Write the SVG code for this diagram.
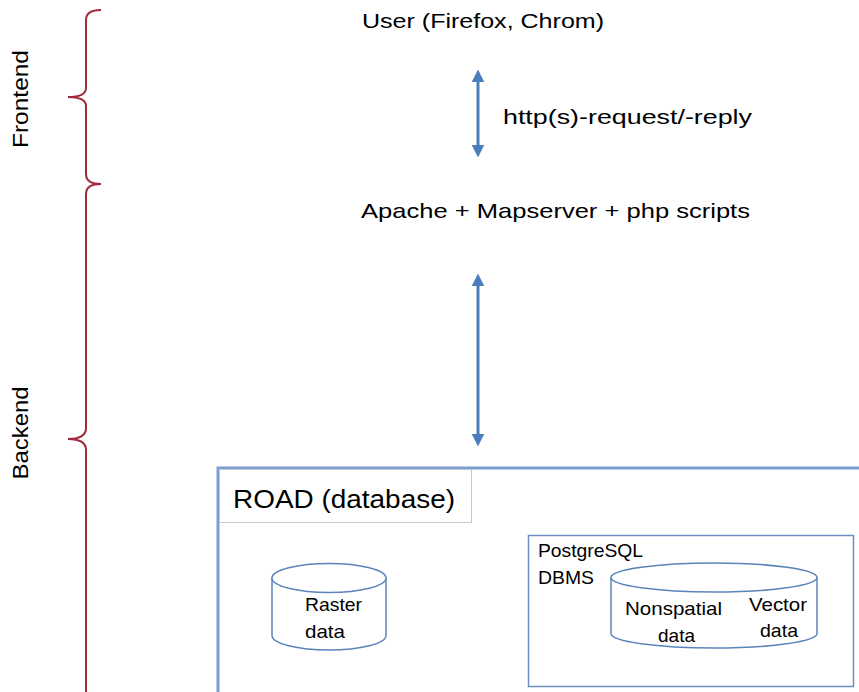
<svg xmlns="http://www.w3.org/2000/svg" width="859" height="692" viewBox="0 0 859 692">
<style>
text{font-family:"Liberation Sans",Arial,sans-serif;fill:#000}
.brace{fill:none;stroke:#9E2A3C;stroke-width:2}
.conn{stroke:#4A7EBB;stroke-width:3;fill:none}
.cyl{fill:#fff;stroke:#5B85BA;stroke-width:1.5}
.s{font-size:19px}
</style>
<defs>
<marker id="ah" viewBox="0 0 10 10" refX="5" refY="5" markerWidth="4.3" markerHeight="4.3" orient="auto-start-reverse" markerUnits="strokeWidth">
<path d="M0,0 L10,5 L0,10 Z" fill="#4A7EBB"/>
</marker>
</defs>
<rect width="859" height="692" fill="#fff"/>
<g id="frontend">
<path class="brace" d="M101,10 Q86,10 86,20 L86,88 Q86,97 68,97 Q86,97 86,106 L86,174 Q86,184 101,184"/>
<text transform="translate(28,99) rotate(-90)" text-anchor="middle" font-size="22" textLength="98" lengthAdjust="spacingAndGlyphs">Frontend</text>
</g>
<g id="backend">
<path class="brace" d="M101,184 Q86,184 86,194 L86,428 Q86,439 68,439 Q86,439 86,450 L86,692"/>
<text transform="translate(28,433) rotate(-90)" text-anchor="middle" font-size="22" textLength="93" lengthAdjust="spacingAndGlyphs">Backend</text>
</g>
<g id="user">
<text x="362" y="28" font-size="21" textLength="242" lengthAdjust="spacingAndGlyphs">User (Firefox, Chrom)</text>
</g>
<g id="apache">
<text x="361" y="218" font-size="21" textLength="389" lengthAdjust="spacingAndGlyphs">Apache + Mapserver + php scripts</text>
</g>
<g id="connectors">
<line class="conn" x1="478" y1="76" x2="478" y2="151" marker-start="url(#ah)" marker-end="url(#ah)"/>
<line class="conn" x1="478" y1="280" x2="478" y2="440" marker-start="url(#ah)" marker-end="url(#ah)"/>
<text x="503" y="124" font-size="21" textLength="249" lengthAdjust="spacingAndGlyphs">http(s)-request/-reply</text>
</g>
<g id="road">
<rect x="218" y="468" width="645" height="230" fill="#fff" stroke="#7A9DD4" stroke-width="3"/>
<rect x="219.5" y="469.5" width="252" height="53" fill="#fff" stroke="#C8C8C8" stroke-width="1"/>
<text x="233" y="508" font-size="26" textLength="222" lengthAdjust="spacingAndGlyphs">ROAD (database)</text>
</g>
<g id="raster">
<path class="cyl" d="M272,578 L272,635.5 A57,14.5 0 0 0 386,635.5 L386,578"/>
<ellipse class="cyl" cx="329" cy="578" rx="57" ry="14.5"/>
<text class="s" x="305" y="611" textLength="57" lengthAdjust="spacingAndGlyphs">Raster</text>
<text class="s" x="305" y="638" textLength="40" lengthAdjust="spacingAndGlyphs">data</text>
</g>
<g id="postgres">
<rect x="528.5" y="535.5" width="325" height="151" fill="#fff" stroke="#6D8FC0" stroke-width="1.5"/>
<text class="s" x="538" y="557" textLength="105" lengthAdjust="spacingAndGlyphs">PostgreSQL</text>
<text class="s" x="538" y="584" textLength="56" lengthAdjust="spacingAndGlyphs">DBMS</text>
</g>
<g id="vectordb">
<path class="cyl" d="M611,577.5 L611,633.5 A103,14.5 0 0 0 817,633.5 L817,577.5"/>
<ellipse class="cyl" cx="714" cy="577.5" rx="103" ry="14.5"/>
<text class="s" x="625" y="615" textLength="97" lengthAdjust="spacingAndGlyphs">Nonspatial</text>
<text class="s" x="658" y="642" textLength="37" lengthAdjust="spacingAndGlyphs">data</text>
<text class="s" x="749" y="611" textLength="58" lengthAdjust="spacingAndGlyphs">Vector</text>
<text class="s" x="760" y="637" textLength="38" lengthAdjust="spacingAndGlyphs">data</text>
</g>
</svg>
